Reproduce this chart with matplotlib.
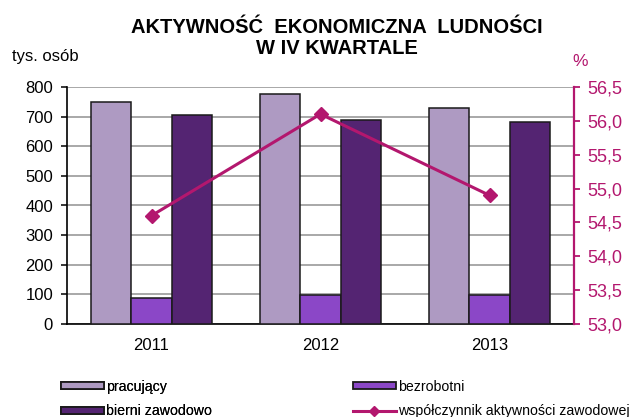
import matplotlib
matplotlib.use("Agg")
import matplotlib.pyplot as plt
from matplotlib.patches import Patch
from matplotlib.lines import Line2D
import numpy as np

plt.rcParams['font.family'] = ['Liberation Sans', 'DejaVu Sans']

years = ["2011", "2012", "2013"]
pracujacy = [751, 777, 730]
bezrobotni = [89, 99, 99]
bierni = [705, 688, 682]
wspolczynnik = [54.6, 56.1, 54.9]

c_prac = "#AE9AC2"
c_bezr = "#8B47C7"
c_bier = "#542472"
c_line = "#B3176E"

W, H = 635, 417
fig = plt.figure(figsize=(W / 100, H / 100), dpi=100)
ax = fig.add_axes([67 / W, 1 - 324 / H, (574 - 67) / W, (324 - 87) / H])

x = np.arange(len(years))
w = 0.238
ax.bar(x - w, pracujacy, w, color=c_prac, edgecolor="#1a1a1a", linewidth=1.1, zorder=3)
ax.bar(x, bezrobotni, w, color=c_bezr, edgecolor="#1a1a1a", linewidth=1.1, zorder=3)
ax.bar(x + w, bierni, w, color=c_bier, edgecolor="#1a1a1a", linewidth=1.1, zorder=3)

ax.set_xlim(-0.5, 2.5)
ax.set_ylim(0, 800)
ax.set_yticks(range(0, 801, 100))
ax.yaxis.grid(True, color="#9a9a9a", linewidth=1.2, zorder=0)
ax.set_axisbelow(True)
ax.set_xticks(x)
ax.set_xticklabels(years)
ax.tick_params(axis="x", length=0, pad=10, labelsize=12)
ax.tick_params(axis="y", length=4.5, width=1.1, direction="out", labelsize=12, pad=5.5)
for s in ("top", "right"):
    ax.spines[s].set_visible(False)
ax.spines["left"].set_linewidth(1.2)
ax.spines["bottom"].set_linewidth(1.2)

ax2 = ax.twinx()
ax2.plot(x, wspolczynnik, color=c_line, linewidth=2.2, marker="D", markersize=7, zorder=5)
ax2.set_ylim(53.0, 56.5)
ticks = np.arange(53.0, 56.51, 0.5)
ax2.set_yticks(ticks)
ax2.set_yticklabels([f"{t:.1f}".replace(".", ",") for t in ticks])
ax2.tick_params(axis="y", colors=c_line, length=4.5, width=1.3, direction="out", labelsize=13, pad=5)
for s in ("top", "left", "bottom"):
    ax2.spines[s].set_visible(False)
ax2.spines["right"].set_color(c_line)
ax2.spines["right"].set_linewidth(1.6)

fig.text(337 / W, 1 - 38 / H, "AKTYWNOŚĆ  EKONOMICZNA  LUDNOŚCI\nW IV KWARTALE",
         ha="center", va="center", fontsize=14.5, fontweight="bold", linespacing=1.1)
fig.text(12 / W, 1 - 57 / H, "tys. osób", ha="left", va="center", fontsize=12)
fig.text(580 / W, 1 - 62 / H, "%", ha="center", va="center", fontsize=12.5, color=c_line)

leg_kw = dict(loc="upper left", frameon=False, fontsize=10.2, handlelength=3.0,
              handleheight=0.38, handletextpad=0.2, labelspacing=0.72,
              borderpad=0, borderaxespad=0)
h_left = [Patch(facecolor=c_prac, edgecolor="#1a1a1a", linewidth=1.3),
          Patch(facecolor=c_bier, edgecolor="#1a1a1a", linewidth=1.3)]
h_right = [Patch(facecolor=c_bezr, edgecolor="#1a1a1a", linewidth=1.3),
           Line2D([0], [0], color=c_line, linewidth=2.2, marker="D", markersize=5)]
leg1 = fig.legend(h_left, ["pracujący", "bierni zawodowo"],
                  bbox_to_anchor=(61 / W, 1 - 380 / H), **leg_kw)
fig.add_artist(leg1)
fig.legend(h_right, ["bezrobotni", "współczynnik aktywności zawodowej"],
           bbox_to_anchor=(353 / W, 1 - 380 / H), **leg_kw)

fig.savefig("out.png", dpi=100)
